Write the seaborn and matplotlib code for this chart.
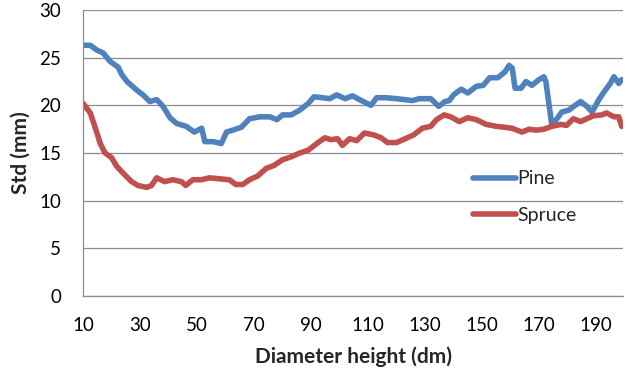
import pandas as pd
import seaborn as sns
import matplotlib.pyplot as plt
from matplotlib.ticker import MultipleLocator

# Valeurs
pine_x = [10, 12.5, 14.8, 17, 19.5, 22.3, 23.6, 25.4, 28.8, 31, 33.4, 35.8, 38, 40.5, 42.8,
          46.2, 49, 51.6, 52.7, 55.5, 58.5, 60.3, 62.5, 65.5, 68.4, 72, 75.5, 78, 80, 83,
          86, 89, 91, 94, 96.5, 99, 102, 104.5, 107, 111, 113, 116.4, 120, 123, 125.5,
          128, 132, 134.8, 137, 138.5, 140, 142.7, 145, 148, 150.4, 152.7, 155.5, 158,
          159.5, 160.6, 161.6, 163.7, 165.4, 167.5, 170, 171.7, 172.4, 174.5, 176.3, 178,
          180.5, 182.2, 184.6, 186.8, 188.6, 191, 192.8, 195, 196.3, 198, 199]
pine_std = [26.3, 26.3, 25.8, 25.5, 24.6, 24.0, 23.2, 22.5, 21.6, 21.1, 20.4, 20.6, 19.9, 18.7, 18.1,
            17.8, 17.2, 17.6, 16.2, 16.2, 16.0, 17.2, 17.4, 17.7, 18.6, 18.8, 18.8, 18.5, 19.0, 19.0,
            19.5, 20.2, 20.9, 20.8, 20.7, 21.1, 20.7, 21.0, 20.6, 20.0, 20.8, 20.8, 20.7, 20.6, 20.5,
            20.7, 20.7, 19.9, 20.4, 20.5, 21.1, 21.7, 21.3, 22.0, 22.1, 22.9, 22.9, 23.5,
            24.2, 23.9, 21.8, 21.8, 22.5, 22.1, 22.7, 23.0, 22.5, 17.9, 18.6, 19.3,
            19.5, 19.9, 20.4, 19.9, 19.3, 20.6, 21.4, 22.3, 23.0, 22.3, 22.7]

spruce_x = [10, 12.5, 14.2, 16, 17.7, 20, 21.8, 24, 27, 29.2, 32.3, 34, 35.8, 38.6, 41.5,
            44.5, 46, 48.5, 51.5, 54.3, 57.8, 61.3, 63.6, 66, 68.4, 71.3, 74.3, 77, 80, 83,
            86, 89, 92, 94.8, 97, 99.3, 101, 103.5, 106, 108.7, 112, 114.6, 116.8, 120, 123,
            126, 129, 132, 134, 136.7, 139, 142, 145, 148, 151.5, 155, 158, 160.5, 164,
            166.5, 169, 171.7, 174.5, 177.6, 179.7, 182, 184.6, 186.8, 189, 192, 193.7,
            196.3, 198, 199]
spruce_std = [20.2, 19.2, 17.7, 16.0, 15.0, 14.5, 13.6, 12.9, 12.0, 11.6, 11.4, 11.6, 12.4, 12.0, 12.2,
              12.0, 11.6, 12.2, 12.2, 12.4, 12.3, 12.2, 11.7, 11.7, 12.2, 12.6, 13.4, 13.7, 14.3, 14.6,
              15.0, 15.3, 16.0, 16.6, 16.4, 16.5, 15.8, 16.5, 16.3, 17.1, 16.9, 16.6, 16.1, 16.1, 16.5,
              16.9, 17.6, 17.8, 18.5, 19.0, 18.8, 18.3, 18.7, 18.5, 18.0, 17.8, 17.7, 17.6, 17.2,
              17.5, 17.4, 17.5, 17.8, 18.0, 17.9, 18.6, 18.3, 18.6, 18.9, 19.0, 19.2,
              18.8, 18.8, 17.8]

df = pd.concat([
    pd.DataFrame({'height': pine_x, 'std': pine_std, 'species': 'Pine'}),
    pd.DataFrame({'height': spruce_x, 'std': spruce_std, 'species': 'Spruce'}),
])

sns.set_style("white")
plt.rcParams['font.family'] = ['Lato', 'DejaVu Sans']

fig = plt.figure(figsize=(6.3, 3.71), dpi=100)
ax = fig.add_axes([0.132, 0.202, 0.857, 0.771])

sns.lineplot(data=df, x='height', y='std', hue='species', sort=False,
             palette={'Pine': '#4F81BD', 'Spruce': '#C0504D'},
             linewidth=4.0, solid_capstyle='round', solid_joinstyle='round', ax=ax)

ax.set_xlim(10, 199.5)
ax.set_ylim(0, 30)
ax.xaxis.set_minor_locator(MultipleLocator(5))
ax.set_xticks(range(10, 200, 20))
ax.yaxis.set_major_locator(MultipleLocator(5))
ax.grid(axis='y', color='#8c8c8c', linewidth=0.9)
ax.set_axisbelow(True)

for s in ['top', 'right']:
    ax.spines[s].set_visible(False)
for s in ['left', 'bottom']:
    ax.spines[s].set_color('#8c8c8c')
    ax.spines[s].set_linewidth(0.9)

ax.tick_params(axis='both', which='both', direction='out', color='#8c8c8c', width=0.9,
               labelsize=13.5, labelcolor='black')
ax.tick_params(axis='x', which='both', length=5, pad=10)
ax.tick_params(axis='y', length=5, pad=11)

ax.set_xlabel("Diameter height (dm)", fontsize=15, fontweight='bold', labelpad=9)
ax.set_ylabel("Std (mm)", fontsize=15, fontweight='bold', labelpad=6)

leg = ax.legend(loc='center left', bbox_to_anchor=(0.722, 0.346), frameon=False, fontsize=14,
                handlelength=2.2, handletextpad=0.1, labelspacing=1.0, borderpad=0,
                borderaxespad=0, title=None)
for line in leg.get_lines():
    line.set_solid_capstyle('round')

plt.savefig('out.png', dpi=100)
